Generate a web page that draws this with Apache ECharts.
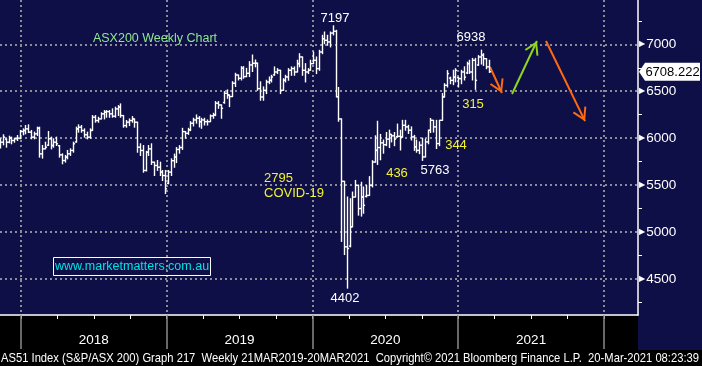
<!DOCTYPE html>
<html><head><meta charset="utf-8">
<script src="https://cdn.jsdelivr.net/npm/echarts@6/dist/echarts.min.js"></script>
<style>html,body{margin:0;padding:0;background:#000;}#c{width:702px;height:366px;}</style>
</head><body><div id="c"></div>
<script>
// ---- data (weekly bars, first week ending 2017-11-10) ----
const firstWeek = '2017-11-10';
const opens = [
5940,5957,5990,5957,6000,5975,5993,6000,6071,6082,
6099,6064,6011,6046,6106,5833,5886,5925,5993,5922,
5957,5920,5822,5762,5798,5833,5869,5960,6099,6117,
6082,6036,6011,6082,6223,6188,6205,6259,6276,6283,
6259,6234,6312,6330,6241,6134,6170,6188,6205,6170,
5904,5869,5656,5850,5886,5744,5709,5691,5638,5602,
5520,5638,5760,5800,5880,5900,6070,6052,6088,6159,
6194,6212,6176,6194,6176,6176,6237,6247,6372,6354,
6380,6478,6460,6443,6585,6673,6638,6744,6656,6691,
6780,6798,6798,6528,6439,6510,6599,6617,6675,6705,
6723,6510,6617,6652,6723,6741,6705,6794,6865,6723,
6705,6723,6794,6830,6741,6918,7060,7043,7025,7120,
7139,6441,6205,5540,4842,4850,5055,5373,5497,5250,
5373,5380,5390,5497,5745,5870,5900,5950,5930,5990,
6040,6025,6015,6020,6013,6137,6120,6085,6013,5907,
5870,5925,5800,5960,6084,6190,6120,5942,6190,6439,
6563,6640,6616,6650,6645,6634,6705,6695,6794,6705,
6830,6780,6865,6883,6847,6760];
const highs = [
5993,6036,5993,6021,6011,6000,6028,6082,6099,6135,
6142,6082,6064,6117,6117,5922,5957,6071,6011,5993,
6011,5922,5833,5816,5869,5886,5957,6117,6142,6135,
6099,6064,6099,6241,6241,6223,6270,6294,6294,6294,
6312,6330,6347,6365,6241,6188,6205,6230,6205,6170,
5940,5922,5860,5922,5940,5744,5762,5744,5656,5656,
5656,5780,5830,5900,5920,6105,6070,6105,6176,6212,
6247,6230,6212,6212,6194,6247,6265,6390,6390,6354,
6496,6514,6460,6602,6691,6673,6762,6762,6744,6815,
6886,6833,6800,6600,6546,6617,6652,6670,6759,6741,
6723,6634,6670,6741,6759,6759,6830,6900,6865,6794,
6741,6830,6918,6865,6936,7096,7131,7096,7131,7197,
7149,6540,6205,5540,5373,5355,5426,5550,5500,5530,
5480,5497,5590,5760,6025,6180,6040,5980,6060,6085,
6040,6060,6150,6085,6190,6190,6137,6120,6030,5980,
5960,6000,5990,6085,6210,6190,6190,6190,6475,6580,
6720,6650,6723,6740,6650,6723,6760,6810,6830,6850,
6850,6880,6938,6900,6847,6830];
const lows = [
5894,5929,5904,5950,5940,5957,5975,5993,6036,6046,
6060,5993,5993,6028,5798,5787,5886,5922,5886,5904,
5922,5798,5727,5745,5780,5816,5851,5957,6064,6064,
6011,5993,6000,6082,6170,6170,6205,6205,6223,6223,
6223,6223,6241,6223,6117,6117,6134,6170,6117,5850,
5815,5637,5650,5815,5720,5602,5656,5602,5549,5410,
5514,5602,5690,5740,5840,5880,6000,6040,6080,6130,
6160,6120,6105,6140,6140,6176,6212,6240,6318,6212,
6372,6425,6336,6443,6550,6620,6620,6638,6655,6656,
6710,6760,6510,6404,6404,6475,6581,6599,6670,6688,
6475,6510,6599,6617,6670,6670,6705,6760,6670,6599,
6688,6723,6794,6688,6723,6900,7007,6990,6972,7100,
6440,6180,4900,4760,4402,4842,5055,5373,5180,5170,
5200,5373,5390,5480,5745,5720,5770,5840,5920,5900,
5960,5920,6010,5874,6010,6085,6050,5980,5870,5850,
5835,5763,5800,5940,6060,6065,5890,5920,6190,6439,
6545,6580,6570,6600,6545,6580,6620,6688,6690,6620,
6520,6775,6790,6775,6740,6700];
const closes = [
5957,6011,5957,6000,5975,5993,6000,6071,6082,6099,
6064,6011,6046,6106,5833,5886,5904,5993,5922,5957,
5940,5822,5762,5798,5833,5869,5940,6099,6117,6082,
6036,6011,6082,6223,6188,6205,6259,6276,6283,6259,
6234,6312,6330,6241,6134,6170,6188,6205,6170,5904,
5869,5656,5850,5886,5744,5709,5691,5638,5602,5460,
5638,5760,5800,5880,5900,6070,6052,6088,6159,6194,
6212,6176,6194,6176,6176,6237,6247,6372,6354,6318,
6478,6460,6443,6585,6673,6638,6744,6656,6691,6780,
6798,6798,6528,6439,6510,6599,6617,6652,6705,6723,
6510,6617,6652,6723,6741,6705,6794,6865,6723,6705,
6723,6794,6830,6741,6918,7060,7043,7025,7120,7139,
6441,6205,5540,4842,4825,5055,5373,5497,5250,5373,
5285,5390,5497,5745,5870,5900,5950,5930,5990,6040,
6025,5990,6020,6013,6137,6120,6085,6013,5907,5870,
5925,5800,5960,6084,6190,6120,5942,6190,6439,6563,
6688,6616,6650,6723,6634,6705,6650,6794,6705,6830,
6616,6865,6883,6847,6760,6708];
const lastPrice = 6708.222;
const yMajorTicks = [4500, 5000, 5500, 6000, 6500, 7000];
const yMinorTicks = [4250, 4750, 5250, 5750, 6250, 6750, 7250];
const yearTicks = [2018, 2019, 2020, 2021, 2022];
const quarterTicks = [2018, 2018.25, 2018.5, 2018.75, 2019, 2019.25, 2019.5, 2019.75, 2020, 2020.25, 2020.5, 2020.75, 2021, 2021.25, 2021.5, 2021.75, 2022];
const yearLabelPos = [2018.5, 2019.5, 2020.5, 2021.5];
// drawn annotation arrows (data coordinates: fractional year, index level)
const arrowOrange1 = [[2021.218, 6758], [2021.300, 6481]];
const arrowGreen = [[2021.369, 6470], [2021.540, 7035]];
const arrowOrange2 = [[2021.602, 7035], [2021.870, 6181]];
const footerText = 'AS51 Index (S&P/ASX 200) Graph 217  Weekly 21MAR2019-20MAR2021  Copyright\u00A9 2021 Bloomberg Finance L.P.  20-Mar-2021 08:23:39';

// ---- helpers ----
function fracYear(ms) {
  const d = new Date(ms), y = d.getUTCFullYear();
  const a = Date.UTC(y, 0, 1), b = Date.UTC(y + 1, 0, 1);
  return y + (ms - a) / (b - a);
}
const t0 = Date.parse(firstWeek + 'T00:00:00Z');
const WEEK = 7 * 86400000;
const rows = closes.map((c, i) => [fracYear(t0 + i * WEEK), opens[i], highs[i], lows[i], c]);

const NAVY = '#0f0f48';
const FONT = '"Liberation Sans", Arial, sans-serif';
const GRID_COLOR = '#8c8c96';
const X_MIN = 2017.856, X_MAX = 2022.2333;
const Y_MIN = 4116, Y_MAX = 7472;
const CHEVRON = 'path://M7.5,-13.5 M7.5,0 L15,12.5 L13.3,13.5 L7.5,3.8 L1.7,13.5 L0,12.5 Z';

const chart = echarts.init(document.getElementById('c'), null, {renderer: 'canvas', width: 702, height: 366});

function arrowLine(pts, color) {
  return [{coord: pts[0], lineStyle: {color: color, width: 2, type: 'solid'}}, {coord: pts[1]}];
}

const option = {
  backgroundColor: NAVY,
  animation: false,
  grid: {left: 0, right: 64, top: 0, bottom: 51, containLabel: false},
  xAxis: [
    {type: 'value', min: X_MIN, max: X_MAX, position: 'bottom',
      axisLine: {show: true, onZero: false, lineStyle: {color: '#ffffff', width: 1.5}},
      axisTick: {show: true, customValues: quarterTicks, length: 4, lineStyle: {color: '#ffffff', width: 1}},
      axisLabel: {show: false}, splitLine: {show: false}},
    {type: 'value', min: X_MIN, max: X_MAX, position: 'bottom',
      axisLine: {show: false, onZero: false},
      axisTick: {show: true, customValues: yearTicks, length: 34, lineStyle: {color: '#8a8a8a', width: 1.5}},
      axisLabel: {show: true, customValues: yearLabelPos, formatter: v => String(Math.floor(v)),
        color: '#ffffff', fontSize: 13.5, fontFamily: FONT, margin: 18},
      splitLine: {show: true, lineStyle: {color: GRID_COLOR, type: [2, 3], width: 2}}}
  ],
  yAxis: [
    {type: 'value', min: Y_MIN, max: Y_MAX, position: 'right',
      axisLine: {show: true, onZero: false, lineStyle: {color: '#ffffff', width: 1.5}},
      axisTick: {show: true, customValues: yMajorTicks, length: 0},
      axisLabel: {show: true, customValues: yMajorTicks, margin: 1,
        formatter: v => '{t|\u25B6}{v|' + v + '}',
        rich: {t: {color: '#ffffff', fontSize: 8, fontFamily: 'DejaVu Sans', padding: [0, 1, 0, 0]},
               v: {color: '#ffffff', fontSize: 13.5, fontFamily: FONT}}},
      splitLine: {show: true, lineStyle: {color: GRID_COLOR, type: [2, 3], width: 2}}},
    {type: 'value', min: Y_MIN, max: Y_MAX, position: 'right',
      axisLine: {show: false, onZero: false},
      axisTick: {show: true, customValues: yMinorTicks, length: 4, lineStyle: {color: '#ffffff', width: 1}},
      axisLabel: {show: false}, splitLine: {show: false}}
  ],
  series: [
    {type: 'custom', name: 'AS51', xAxisIndex: 0, yAxisIndex: 0, data: rows, clip: true, z: 5,
      encode: {x: 0, y: [1, 2, 3, 4]},
      renderItem: function (params, api) {
        const x = api.value(0);
        const pH = api.coord([x, api.value(2)]);
        const pL = api.coord([x, api.value(3)]);
        const pO = api.coord([x, api.value(1)]);
        const pC = api.coord([x, api.value(4)]);
        const w = 1.6;
        const st = {stroke: '#ffffff', lineWidth: 1.4};
        const cx = Math.round(pH[0]) + 0.5;
        return {type: 'group', children: [
          {type: 'line', shape: {x1: cx, y1: pH[1] - 0.5, x2: cx, y2: pL[1] + 0.5}, style: st},
          {type: 'line', shape: {x1: cx - w, y1: pO[1], x2: cx, y2: pO[1]}, style: st},
          {type: 'line', shape: {x1: cx, y1: pC[1], x2: cx + w, y2: pC[1]}, style: st}
        ]};
      }},
    {type: 'line', name: 'arrows', xAxisIndex: 0, yAxisIndex: 0, data: [], z: 6,
      markLine: {silent: true, animation: false, symbol: ['none', CHEVRON], symbolSize: [15, 27],
        label: {show: false},
        data: [arrowLine(arrowOrange1, '#ff6a10'), arrowLine(arrowGreen, '#8fd61c'), arrowLine(arrowOrange2, '#ff6a10')]}}
  ]
};
chart.setOption(option);

const py = chart.convertToPixel({yAxisIndex: 0}, lastPrice);
const YEL = '#f2f22e';
function txt(x, y, s, color, align, size) {
  return {type: 'text', x: x, y: y, z: 20,
    style: {text: s, fill: color, font: (size || 13) + 'px ' + FONT, textAlign: align || 'center', textVerticalAlign: 'middle'}};
}
// fit footer to the strip width
const mctx = document.createElement('canvas').getContext('2d');
mctx.font = '13.5px ' + FONT;
const footerW = mctx.measureText(footerText).width;
const footer = txt(1, 358.5, footerText, '#ffffff', 'left', 13.5);
footer.scaleX = 698 / footerW;

chart.setOption({
  graphic: [
    {type: 'rect', z: -1, shape: {x: 0, y: 316, width: 638, height: 34}, style: {fill: '#000000'}},
    {type: 'rect', z: -1, shape: {x: 0, y: 350, width: 702, height: 16}, style: {fill: '#000000'}},
    footer,
    txt(155, 39, 'ASX200 Weekly Chart', '#8fe88f', 'center', 12.5),
    txt(335, 18, '7197', '#ffffff'),
    txt(471, 37, '6938', '#ffffff'),
    txt(473, 104, '315', YEL),
    txt(456, 145, '344', YEL),
    txt(435, 170, '5763', '#ffffff'),
    txt(397, 173, '436', YEL),
    txt(264, 178, '2795', YEL, 'left'),
    txt(264, 193, 'COVID-19', YEL, 'left'),
    txt(345, 298, '4402', '#ffffff'),
    {type: 'rect', z: 20, shape: {x: 53.5, y: 257.5, width: 157, height: 18}, style: {fill: 'none', stroke: '#ffffff', lineWidth: 1}},
    txt(132, 266.5, 'www.marketmatters.com.au', '#00e3e3', 'center', 12.5),
    {type: 'polygon', z: 20, shape: {points: [[639, py], [645, py - 9], [700, py - 9], [700, py + 9], [645, py + 9]]}, style: {fill: '#ffffff'}},
    txt(672.5, py + 0.5, '6708.222', '#000000', 'center', 13)
  ]
});
</script></body></html>
